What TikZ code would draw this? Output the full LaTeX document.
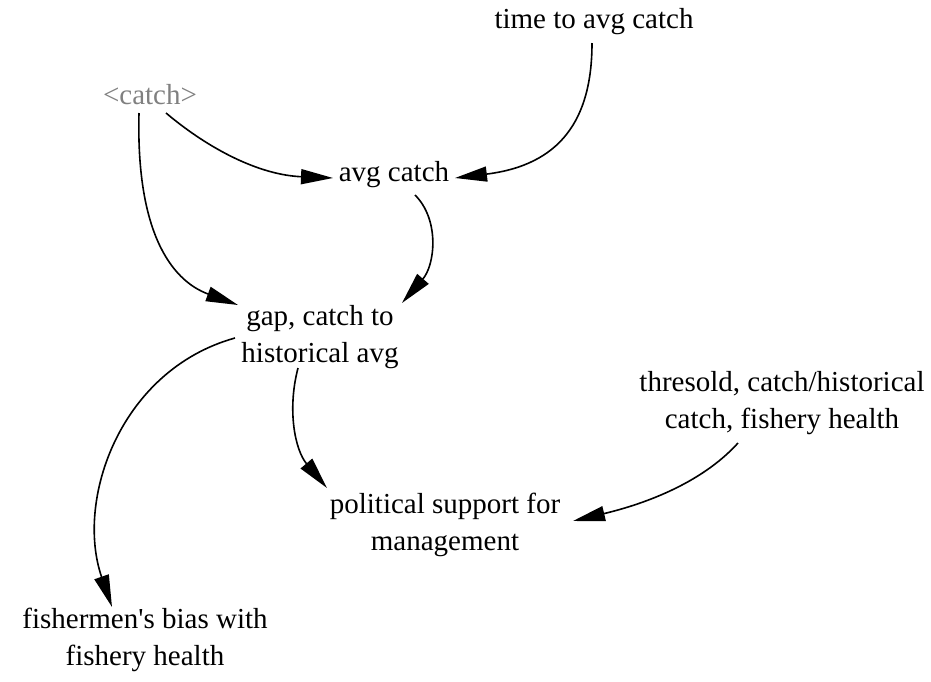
\documentclass[tikz,border=0pt]{standalone}
\usepackage{fontspec}
\setmainfont{Liberation Serif}[Ligatures=TeXOff]
\usetikzlibrary{arrows.meta,calc}
\begin{document}
\begin{tikzpicture}[x=1pt,y=-1pt,
  var/.style={inner sep=0pt,align=center,font=\fontsize{29}{37}\selectfont},
  shadowvar/.style={var,text=black!50},
  link/.style={line width=1.6pt,-{Triangle[length=32pt,width=15pt]}}]
\useasboundingbox (0,0) rectangle (931,681);

% variables
\node[var] (time) at (594,22) {time to avg catch};
\node[shadowvar] (catch) at (150,95) {\textless catch\textgreater};
\node[var] (avg) at (394,175) {avg catch};
\node[var] (gap) at (320,337) {gap, catch to\\historical avg};
\node[var] (thr) at (782,403) {thresold, catch/historical\\catch, fishery health};
\node[var] (pol) at (445,525) {political support for\\management};
\node[var] (bias) at (145,640) {fishermen's bias with\\fishery health};

% causal links
\draw[link] ($(time)+(-2,21)$) .. controls ($(time)+(-2,98)$) and ($(time)+(-34,143)$) .. ($(avg)+(61,3)$);
\draw[link] ($(catch)+(16,18)$) .. controls ($(catch)+(60,55)$) and ($(catch)+(110,80)$) .. ($(avg)+(-61,3)$);
\draw[link] ($(catch)+(-11,18)$) .. controls ($(catch)+(-14,135)$) and ($(catch)+(20,185)$) .. ($(gap)+(-82,-32)$);
\draw[link] ($(avg)+(21,20)$) .. controls ($(avg)+(46,45)$) and ($(avg)+(41,90)$) .. ($(gap)+(82,-34)$);
\draw[link] ($(gap)+(-85,1)$) .. controls ($(gap)+(-200,33)$) and ($(gap)+(-245,163)$) .. ($(bias)+(-33,-33)$);
\draw[link] ($(gap)+(-22,31)$) .. controls ($(gap)+(-33,73)$) and ($(gap)+(-25,113)$) .. ($(pol)+(-118,-37)$);
\draw[link] ($(thr)+(-44,40)$) .. controls ($(thr)+(-82,82)$) and ($(thr)+(-142,102)$) .. ($(pol)+(128,-4)$);
\end{tikzpicture}
\end{document}
